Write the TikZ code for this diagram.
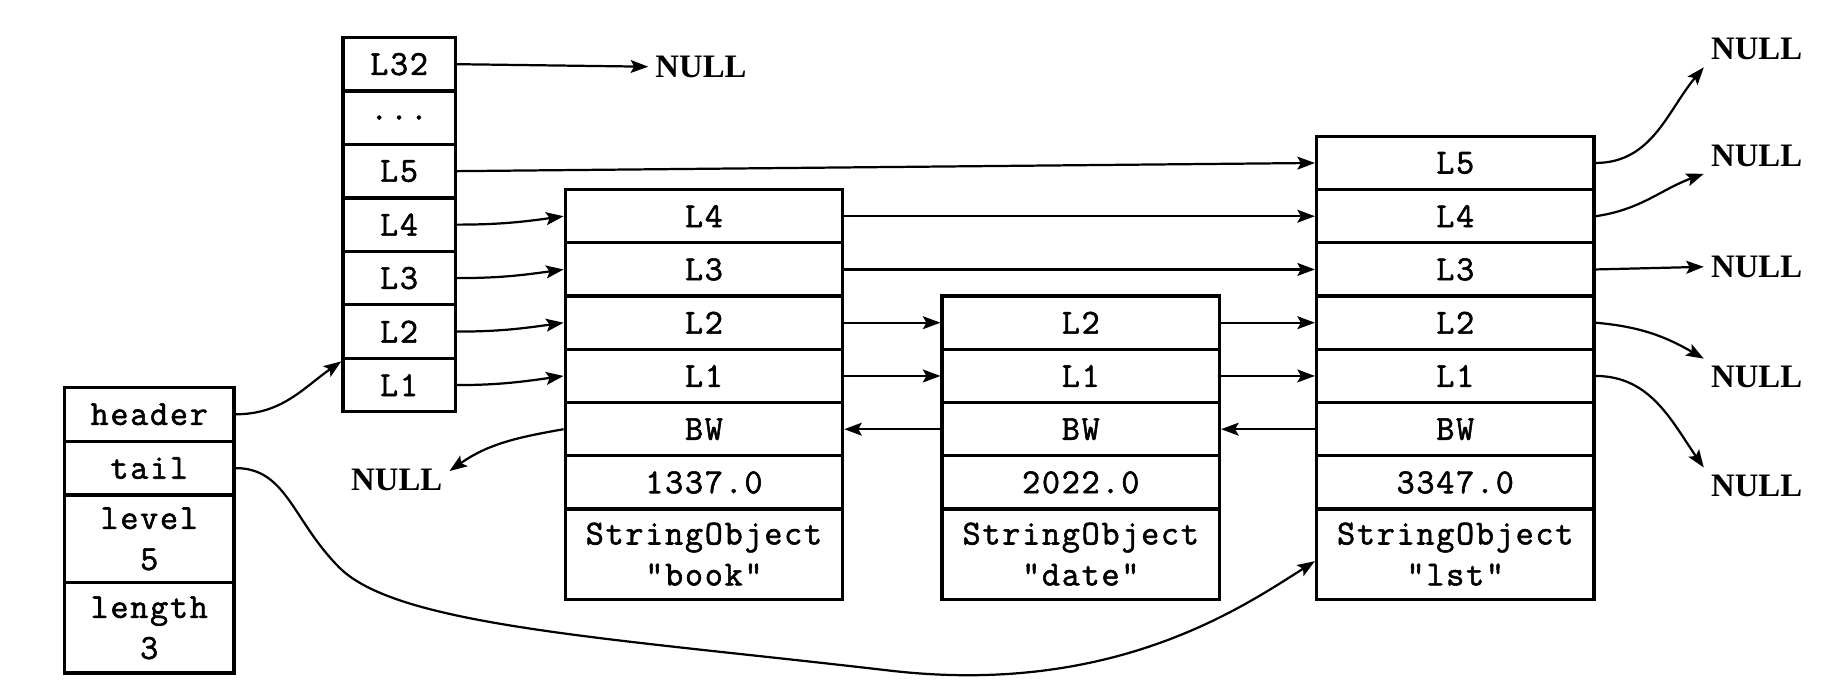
\documentclass[tikz,border=0pt]{standalone}
\usepackage{fontspec}
\usetikzlibrary{arrows.meta}
\newfontfamily\cellfont{Latin Modern Mono}[LetterSpace=5.0,FakeBold=1.6]
\newfontfamily\nulllabelfont{Liberation Serif}
\begin{document}
\begin{tikzpicture}[x=1pt,y=-1pt,
  cell/.style={draw, line width=2.8pt, rectangle, inner sep=0pt,
    minimum width=237pt, minimum height=45.5pt,
    font={\cellfont\fontsize{30}{35}\selectfont}, align=center},
  lvcell/.style={cell, minimum width=96pt, minimum height=45.7pt},
  hdcell/.style={cell, minimum width=145pt},
  nulltxt/.style={font={\nulllabelfont\bfseries\fontsize{28}{34}\selectfont}, inner sep=6pt},
  link/.style={line width=1.9pt, -{Stealth[length=15pt,width=11pt,inset=3pt]}}
]
\useasboundingbox (0,0) rectangle (1568,593);

% level array
\node[lvcell] (lv32) at (341,54.85) {L32};
\node[lvcell] (lvdots) at (341,100.55) {...};
\node[lvcell] (lv5) at (341,146.25) {L5};
\node[lvcell] (lv4) at (341,191.95) {L4};
\node[lvcell] (lv3) at (341,237.65) {L3};
\node[lvcell] (lv2) at (341,283.35) {L2};
\node[lvcell] (lv1) at (341,329.05) {L1};

% header struct
\node[hdcell, minimum height=46pt] (hd) at (127.5,354) {header};
\node[hdcell, minimum height=46pt] (tl) at (127.5,400) {tail};
\node[hdcell, minimum height=75pt] (lvl) at (127.5,460.5) {level\\5};
\node[hdcell, minimum height=77pt] (len) at (127.5,536.5) {length\\3};

% node book
\node[cell] (bk4) at (601.5,184.75) {L4};
\node[cell] (bk3) at (601.5,230.25) {L3};
\node[cell] (bk2) at (601.5,275.75) {L2};
\node[cell] (bk1) at (601.5,321.25) {L1};
\node[cell] (bkbw) at (601.5,366.75) {BW};
\node[cell] (bkv) at (601.5,412.25) {1337.0};
\node[cell, minimum height=77pt] (bkso) at (601.5,473.5) {StringObject\\"book"};

% node date
\node[cell] (dt2) at (923.5,275.75) {L2};
\node[cell] (dt1) at (923.5,321.25) {L1};
\node[cell] (dtbw) at (923.5,366.75) {BW};
\node[cell] (dtv) at (923.5,412.25) {2022.0};
\node[cell, minimum height=77pt] (dtso) at (923.5,473.5) {StringObject\\"date"};

% node lst
\node[cell] (ls5) at (1243.5,139.25) {L5};
\node[cell] (ls4) at (1243.5,184.75) {L4};
\node[cell] (ls3) at (1243.5,230.25) {L3};
\node[cell] (ls2) at (1243.5,275.75) {L2};
\node[cell] (ls1) at (1243.5,321.25) {L1};
\node[cell] (lsbw) at (1243.5,366.75) {BW};
\node[cell] (lsv) at (1243.5,412.25) {3347.0};
\node[cell, minimum height=77pt] (lsso) at (1243.5,473.5) {StringObject\\"lst"};

% NULL labels
\node[nulltxt] (n0) at (599,57) {NULL};
\node[nulltxt] (nl) at (339,410) {NULL};
\node[nulltxt] (r5) at (1501,42) {NULL};
\node[nulltxt] (r4) at (1501,133) {NULL};
\node[nulltxt] (r3) at (1501,228) {NULL};
\node[nulltxt] (r2) at (1501,322) {NULL};
\node[nulltxt] (r1) at (1501,415) {NULL};

% connectors
\draw[link] (lv32.east) -- (n0.west);
\draw[link] (lv5.east) -- (ls5.west);
\draw[link] (lv4.east) to[out=0,in=188] (bk4.west);
\draw[link] (lv3.east) to[out=0,in=188] (bk3.west);
\draw[link] (lv2.east) to[out=0,in=188] (bk2.west);
\draw[link] (lv1.east) to[out=0,in=188] (bk1.west);

\draw[link] (bk4.east) -- (ls4.west);
\draw[link] (bk3.east) -- (ls3.west);
\draw[link] (bk2.east) -- (dt2.west);
\draw[link] (bk1.east) -- (dt1.west);
\draw[link] (dt2.east) -- (ls2.west);
\draw[link] (dt1.east) -- (ls1.west);

\draw[link] (dtbw.west) -- (bkbw.east);
\draw[link] (lsbw.west) -- (dtbw.east);
\draw[link] (bkbw.west) to[out=190,in=35] ([yshift=-8pt]nl.north east);

\draw[link] (hd.east) to[out=0,in=215] ([yshift=-4pt]lv1.north west);
\draw[link] (tl.east) .. controls (245,400) and (250,445) .. (290,485)
  .. controls (340,535) and (520,545) .. (760,573)
  .. controls (950,595) and (1060,520) .. ([yshift=-6pt]lsso.west);

\draw[link] (ls5.east) to[out=0,in=230] (r5.south west);
\draw[link] (ls4.east) to[out=8,in=200] (r4.south west);
\draw[link] (ls3.east) -- (r3.west);
\draw[link] (ls2.east) to[out=-5,in=150] (r2.north west);
\draw[link] (ls1.east) to[out=0,in=125] (r1.north west);
\end{tikzpicture}
\end{document}
